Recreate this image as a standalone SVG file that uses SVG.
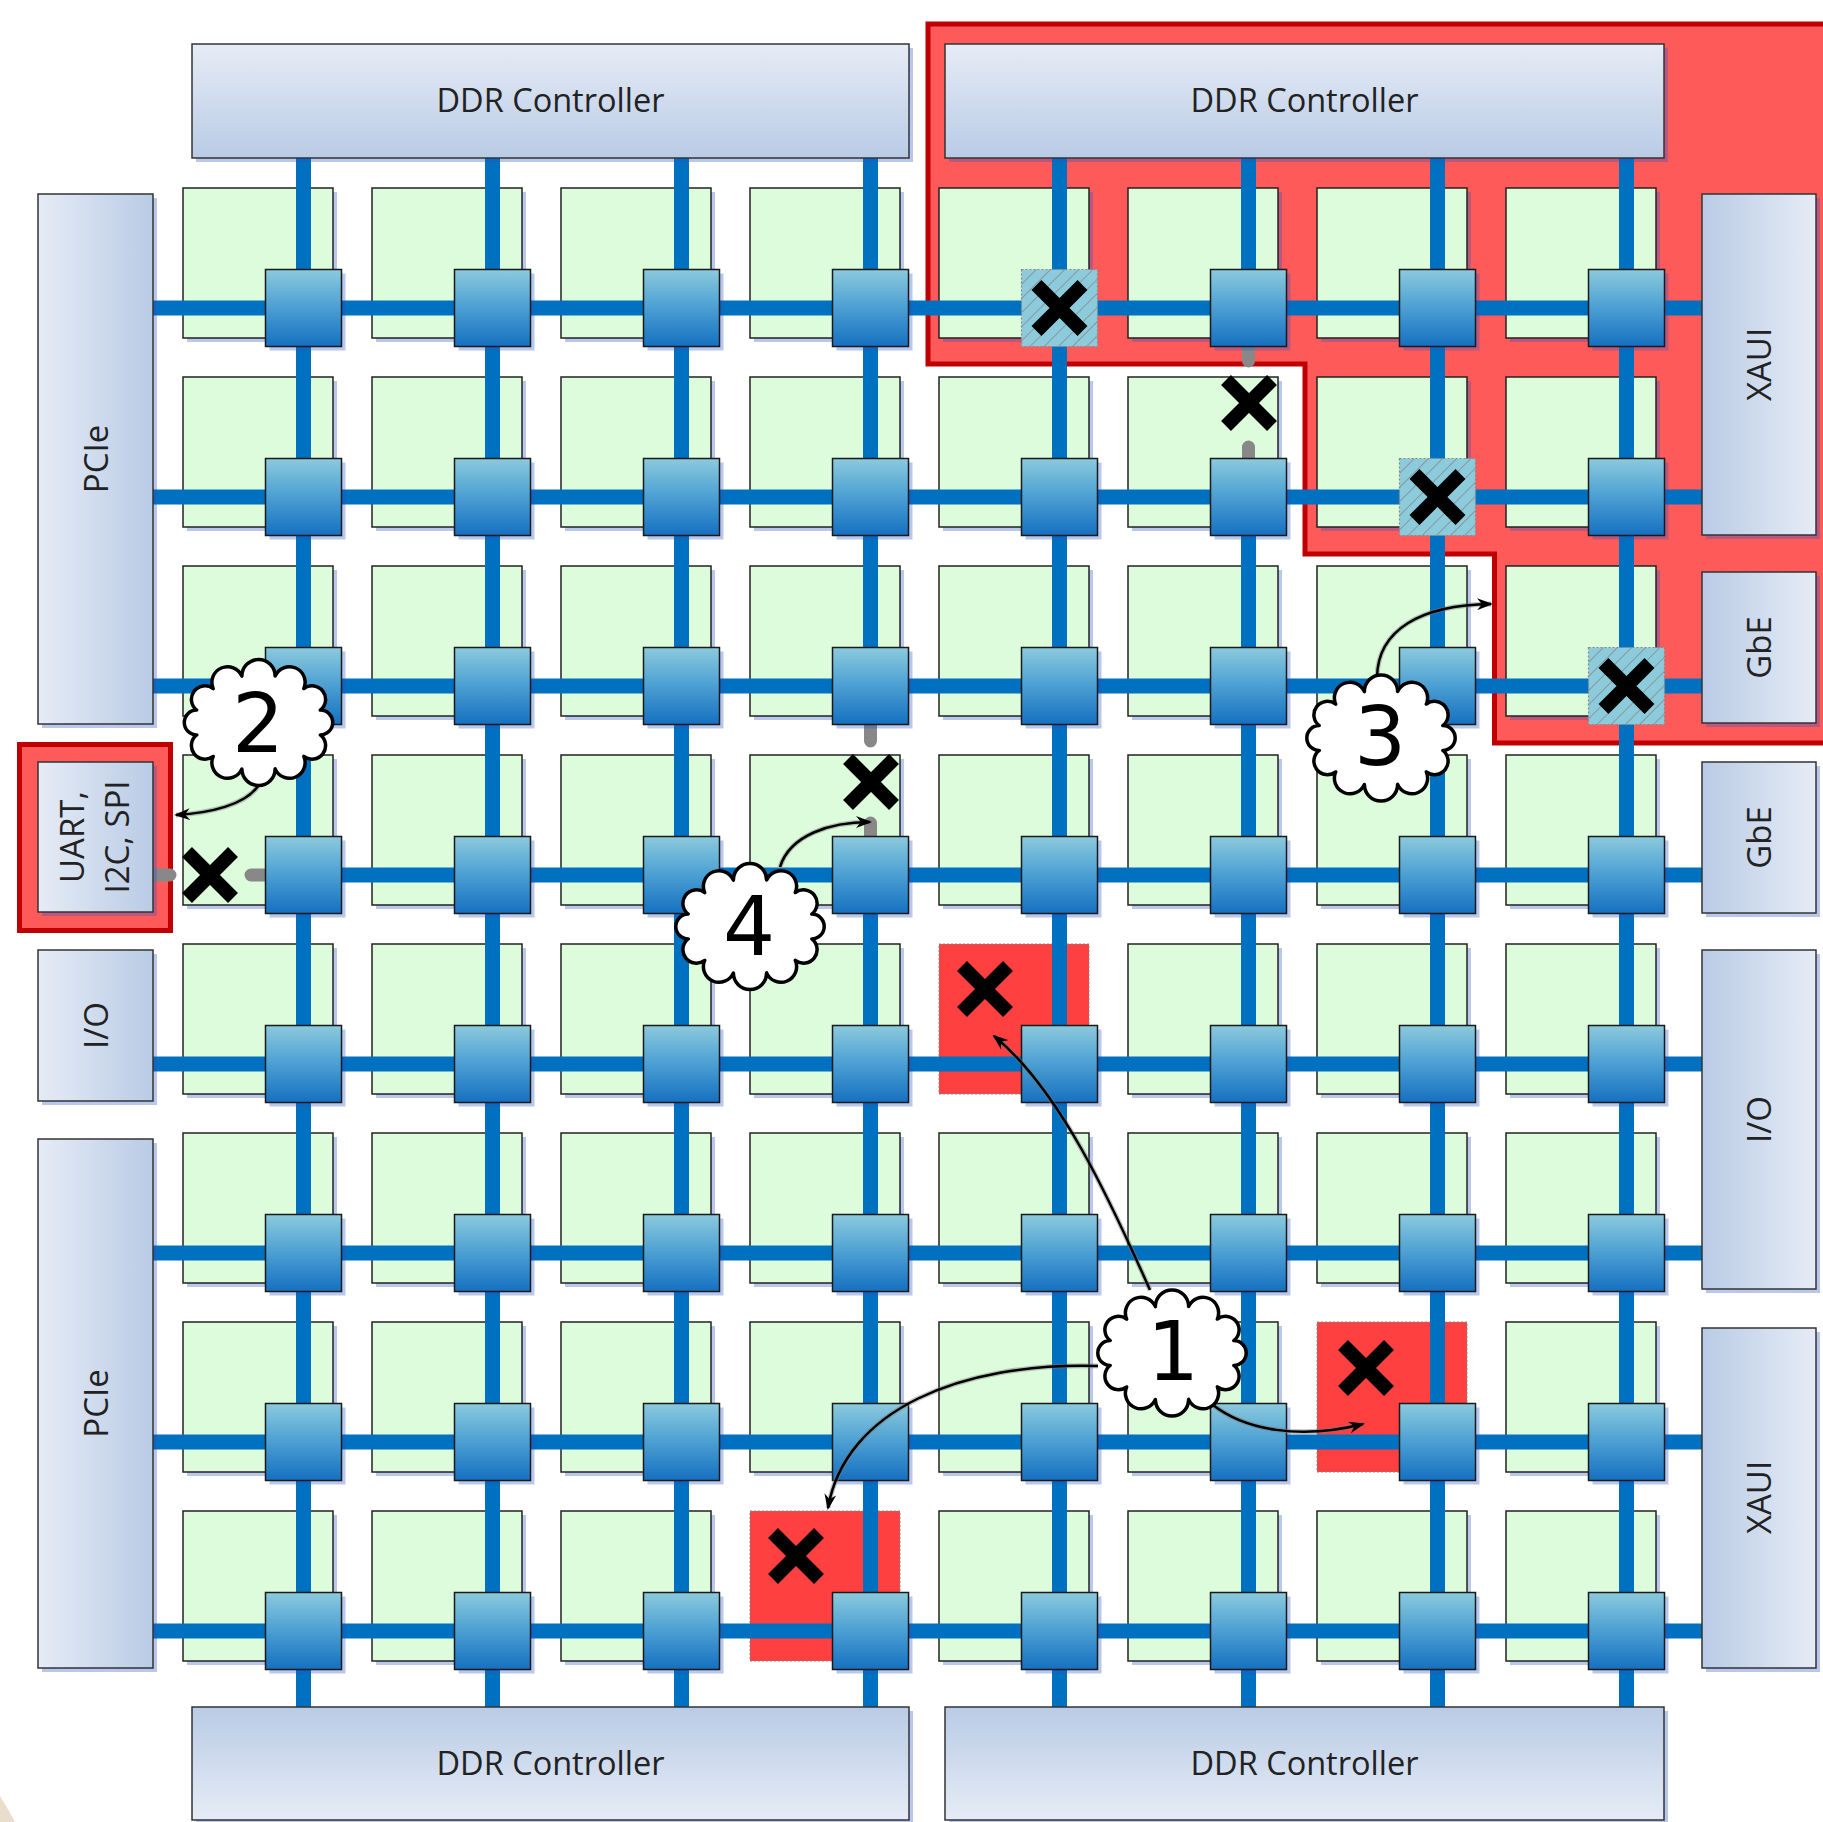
<svg xmlns="http://www.w3.org/2000/svg" xmlns:xlink="http://www.w3.org/1999/xlink" width="1823" height="1822" viewBox="0 0 1823 1822">
<style>
.sh{fill:#2850c8;fill-opacity:.32}
.tile{fill:#dcfcdc;stroke:#222;stroke-width:1.5}
.failed{fill:#ff4040;stroke:#888;stroke-width:1;stroke-dasharray:2 2}
.box{stroke:#333;stroke-width:1.5}
.bus{stroke:#0070c0;stroke-width:15;fill:none}
.stub{stroke:#888;stroke-width:13;stroke-linecap:round;fill:none}
.xm{stroke:#000;stroke-width:14;fill:none}
.lbl{font-family:"Open Sans","Liberation Sans",sans-serif;font-size:33px;fill:#222;text-anchor:middle}
.ddr{font-family:"Open Sans","Liberation Sans",sans-serif;font-size:32.5px;fill:#222;text-anchor:middle}
.num{font-family:"DejaVu Sans",sans-serif;font-size:82px;fill:#000;text-anchor:middle}
.cloud{fill:#fff;stroke:#000;stroke-width:3.5;stroke-linejoin:round}
.arr{fill:none;stroke:#000;stroke-width:2.5;marker-end:url(#ah)}
.arrsh{fill:none;stroke:#777;stroke-width:5;stroke-opacity:.45}
</style>
<defs>
<linearGradient id="gTop" x1="0" y1="0" x2="0" y2="1"><stop offset="0" stop-color="#e6ecf6"/><stop offset="1" stop-color="#b9cbe5"/></linearGradient>
<linearGradient id="gBot" x1="0" y1="0" x2="0" y2="1"><stop offset="0" stop-color="#b9cbe5"/><stop offset="1" stop-color="#e6ecf6"/></linearGradient>
<linearGradient id="gLeft" x1="0" y1="0" x2="1" y2="0"><stop offset="0" stop-color="#e6ecf6"/><stop offset="1" stop-color="#b9cbe5"/></linearGradient>
<linearGradient id="gRight" x1="0" y1="0" x2="1" y2="0"><stop offset="0" stop-color="#b9cbe5"/><stop offset="1" stop-color="#e6ecf6"/></linearGradient>
<linearGradient id="gR" x1="0" y1="0" x2="0" y2="1"><stop offset="0" stop-color="#8ccadd"/><stop offset=".5" stop-color="#4b9fd3"/><stop offset="1" stop-color="#1670c0"/></linearGradient>
<pattern id="hatch" width="10" height="10" patternUnits="userSpaceOnUse" patternTransform="rotate(45)"><line x1="0" y1="0" x2="0" y2="10" stroke="#8a8a8a" stroke-width="1.6"/></pattern>
<marker id="ah" viewBox="0 0 16 12" refX="14" refY="6" markerWidth="16" markerHeight="12" markerUnits="userSpaceOnUse" orient="auto"><path d="M0,0 L16,6 L0,12 L5,6 Z" fill="#000"/></marker>
<g id="tileShape"><rect x="4" y="4" width="150" height="150" class="sh"/><rect width="150" height="150" class="tile"/></g>
<g id="routerShape"><rect x="4" y="4" width="76" height="77" class="sh"/><rect width="76" height="77" fill="url(#gR)" stroke="#1a1a1a" stroke-width="1.5"/></g>
<g id="hatchShape"><rect width="76" height="77" fill="#8ccbdc"/><rect width="76" height="77" fill="url(#hatch)" stroke="#888" stroke-width="1.2" stroke-dasharray="2 2"/></g>
<path id="cloudShape" d="M61.8,12.4 A1,1 0 0,1 45.3,33.9 A1,1 0 0,1 16.6,46.4 A1,1 0 0,1 -16.6,46.4 A1,1 0 0,1 -45.3,33.9 A1,1 0 0,1 -61.8,12.4 A1,1 0 0,1 -61.8,-12.4 A1,1 0 0,1 -45.3,-33.9 A1,1 0 0,1 -16.6,-46.4 A1,1 0 0,1 16.6,-46.4 A1,1 0 0,1 45.3,-33.9 A1,1 0 0,1 61.8,-12.4 A1,1 0 0,1 61.8,12.4 Z"/>
<path id="xShape" d="M-23,-23 L23,23 M23,-23 L-23,23"/>
</defs>
<rect width="1823" height="1822" fill="#fff"/>
<path d="M0,1796 Q8,1809 15,1822 L0,1822 Z" fill="#e9ddcc"/>
<g id="failed-region">
<path d="M928,24 H1830 V743 H1494.5 V554 H1305 V364 H928 Z" fill="#ff5a5a" stroke="#c00000" stroke-width="5"/>
<rect x="19.5" y="744.5" width="151" height="186" fill="#ff5a5a" stroke="#c00000" stroke-width="5"/>
</g>
<g id="tiles">
<use id="t-r0c0" href="#tileShape" x="183" y="188"/><use id="t-r0c1" href="#tileShape" x="372" y="188"/><use id="t-r0c2" href="#tileShape" x="561" y="188"/><use id="t-r0c3" href="#tileShape" x="750" y="188"/><use id="t-r0c4" href="#tileShape" x="939" y="188"/><use id="t-r0c5" href="#tileShape" x="1128" y="188"/><use id="t-r0c6" href="#tileShape" x="1317" y="188"/><use id="t-r0c7" href="#tileShape" x="1506" y="188"/>
<use id="t-r1c0" href="#tileShape" x="183" y="377"/><use id="t-r1c1" href="#tileShape" x="372" y="377"/><use id="t-r1c2" href="#tileShape" x="561" y="377"/><use id="t-r1c3" href="#tileShape" x="750" y="377"/><use id="t-r1c4" href="#tileShape" x="939" y="377"/><use id="t-r1c5" href="#tileShape" x="1128" y="377"/><use id="t-r1c6" href="#tileShape" x="1317" y="377"/><use id="t-r1c7" href="#tileShape" x="1506" y="377"/>
<use id="t-r2c0" href="#tileShape" x="183" y="566"/><use id="t-r2c1" href="#tileShape" x="372" y="566"/><use id="t-r2c2" href="#tileShape" x="561" y="566"/><use id="t-r2c3" href="#tileShape" x="750" y="566"/><use id="t-r2c4" href="#tileShape" x="939" y="566"/><use id="t-r2c5" href="#tileShape" x="1128" y="566"/><use id="t-r2c6" href="#tileShape" x="1317" y="566"/><use id="t-r2c7" href="#tileShape" x="1506" y="566"/>
<use id="t-r3c0" href="#tileShape" x="183" y="755"/><use id="t-r3c1" href="#tileShape" x="372" y="755"/><use id="t-r3c2" href="#tileShape" x="561" y="755"/><use id="t-r3c3" href="#tileShape" x="750" y="755"/><use id="t-r3c4" href="#tileShape" x="939" y="755"/><use id="t-r3c5" href="#tileShape" x="1128" y="755"/><use id="t-r3c6" href="#tileShape" x="1317" y="755"/><use id="t-r3c7" href="#tileShape" x="1506" y="755"/>
<use id="t-r4c0" href="#tileShape" x="183" y="944"/><use id="t-r4c1" href="#tileShape" x="372" y="944"/><use id="t-r4c2" href="#tileShape" x="561" y="944"/><use id="t-r4c3" href="#tileShape" x="750" y="944"/><rect id="t-r4c4" x="939" y="944" width="150" height="150" class="failed"/><use id="t-r4c5" href="#tileShape" x="1128" y="944"/><use id="t-r4c6" href="#tileShape" x="1317" y="944"/><use id="t-r4c7" href="#tileShape" x="1506" y="944"/>
<use id="t-r5c0" href="#tileShape" x="183" y="1133"/><use id="t-r5c1" href="#tileShape" x="372" y="1133"/><use id="t-r5c2" href="#tileShape" x="561" y="1133"/><use id="t-r5c3" href="#tileShape" x="750" y="1133"/><use id="t-r5c4" href="#tileShape" x="939" y="1133"/><use id="t-r5c5" href="#tileShape" x="1128" y="1133"/><use id="t-r5c6" href="#tileShape" x="1317" y="1133"/><use id="t-r5c7" href="#tileShape" x="1506" y="1133"/>
<use id="t-r6c0" href="#tileShape" x="183" y="1322"/><use id="t-r6c1" href="#tileShape" x="372" y="1322"/><use id="t-r6c2" href="#tileShape" x="561" y="1322"/><use id="t-r6c3" href="#tileShape" x="750" y="1322"/><use id="t-r6c4" href="#tileShape" x="939" y="1322"/><use id="t-r6c5" href="#tileShape" x="1128" y="1322"/><rect id="t-r6c6" x="1317" y="1322" width="150" height="150" class="failed"/><use id="t-r6c7" href="#tileShape" x="1506" y="1322"/>
<use id="t-r7c0" href="#tileShape" x="183" y="1511"/><use id="t-r7c1" href="#tileShape" x="372" y="1511"/><use id="t-r7c2" href="#tileShape" x="561" y="1511"/><rect id="t-r7c3" x="750" y="1511" width="150" height="150" class="failed"/><use id="t-r7c4" href="#tileShape" x="939" y="1511"/><use id="t-r7c5" href="#tileShape" x="1128" y="1511"/><use id="t-r7c6" href="#tileShape" x="1317" y="1511"/><use id="t-r7c7" href="#tileShape" x="1506" y="1511"/>
</g>
<g id="connectors">
<path class="bus" d="M303.5,158V1707 M492.5,158V1707 M681.5,158V1707 M870.5,158V700 M870.5,860V1707 M1059.5,158V1707 M1248.5,158V320 M1248.5,480V1707 M1437.5,158V1707 M1626.5,158V1707"/>
<path class="bus" d="M153,308H1702 M153,497H1702 M153,686H1702 M290,875H1702 M153,1064H1702 M153,1253H1702 M153,1442H1702 M153,1631H1702"/>
<path class="stub" d="M153,875H170 M251,875H270 M1248.5,340V361 M1248.5,447V466 M870.5,718V741 M870.5,823V842"/>
</g>
<g id="ddr-tl"><rect x="196" y="48" width="717" height="114" class="sh"/><rect x="192" y="44" width="717" height="114" fill="url(#gTop)" class="box"/><text x="550.5" y="111.5" class="ddr">DDR Controller</text></g>
<g id="ddr-tr"><rect x="949" y="48" width="719" height="114" class="sh"/><rect x="945" y="44" width="719" height="114" fill="url(#gTop)" class="box"/><text x="1304.5" y="111.5" class="ddr">DDR Controller</text></g>
<g id="ddr-bl"><rect x="196" y="1711" width="717" height="113" class="sh"/><rect x="192" y="1707" width="717" height="113" fill="url(#gBot)" class="box"/><text x="550.5" y="1775" class="ddr">DDR Controller</text></g>
<g id="ddr-br"><rect x="949" y="1711" width="719" height="113" class="sh"/><rect x="945" y="1707" width="719" height="113" fill="url(#gBot)" class="box"/><text x="1304.5" y="1775" class="ddr">DDR Controller</text></g>
<g id="pcie-top"><rect x="42" y="198" width="115" height="530" class="sh"/><rect x="38" y="194" width="115" height="530" fill="url(#gLeft)" class="box"/><text transform="translate(95.5,459) rotate(-90)" y="12" class="lbl">PCIe</text></g>
<g id="uart"><rect x="42" y="766" width="115" height="150" class="sh"/><rect x="38" y="762" width="115" height="150" fill="url(#gLeft)" class="box"/><text transform="translate(95.5,837) rotate(-90)" class="lbl"><tspan x="0" y="-12">UART,</tspan><tspan x="0" y="33">I2C, SPI</tspan></text></g>
<g id="io-left"><rect x="42" y="954" width="115" height="151" class="sh"/><rect x="38" y="950" width="115" height="151" fill="url(#gLeft)" class="box"/><text transform="translate(95.5,1025.5) rotate(-90)" y="12" class="lbl">I/O</text></g>
<g id="pcie-bottom"><rect x="42" y="1143" width="115" height="529" class="sh"/><rect x="38" y="1139" width="115" height="529" fill="url(#gLeft)" class="box"/><text transform="translate(95.5,1403.5) rotate(-90)" y="12" class="lbl">PCIe</text></g>
<g id="xaui-top"><rect x="1706" y="198" width="114" height="341" class="sh"/><rect x="1702" y="194" width="114" height="341" fill="url(#gRight)" class="box"/><text transform="translate(1759,364.5) rotate(-90)" y="12" class="lbl">XAUI</text></g>
<g id="gbe-1"><rect x="1706" y="576" width="114" height="151" class="sh"/><rect x="1702" y="572" width="114" height="151" fill="url(#gRight)" class="box"/><text transform="translate(1759,647.5) rotate(-90)" y="12" class="lbl">GbE</text></g>
<g id="gbe-2"><rect x="1706" y="766" width="114" height="151" class="sh"/><rect x="1702" y="762" width="114" height="151" fill="url(#gRight)" class="box"/><text transform="translate(1759,837.5) rotate(-90)" y="12" class="lbl">GbE</text></g>
<g id="io-right"><rect x="1706" y="954" width="114" height="339" class="sh"/><rect x="1702" y="950" width="114" height="339" fill="url(#gRight)" class="box"/><text transform="translate(1759,1119.5) rotate(-90)" y="12" class="lbl">I/O</text></g>
<g id="xaui-bottom"><rect x="1706" y="1332" width="114" height="340" class="sh"/><rect x="1702" y="1328" width="114" height="340" fill="url(#gRight)" class="box"/><text transform="translate(1759,1497.5) rotate(-90)" y="12" class="lbl">XAUI</text></g>
<g id="routers">
<use id="r-r0c0" href="#routerShape" x="265.5" y="269.5"/><use id="r-r0c1" href="#routerShape" x="454.5" y="269.5"/><use id="r-r0c2" href="#routerShape" x="643.5" y="269.5"/><use id="r-r0c3" href="#routerShape" x="832.5" y="269.5"/><use id="r-r0c4" href="#hatchShape" x="1021.5" y="269.5"/><use id="r-r0c5" href="#routerShape" x="1210.5" y="269.5"/><use id="r-r0c6" href="#routerShape" x="1399.5" y="269.5"/><use id="r-r0c7" href="#routerShape" x="1588.5" y="269.5"/>
<use id="r-r1c0" href="#routerShape" x="265.5" y="458.5"/><use id="r-r1c1" href="#routerShape" x="454.5" y="458.5"/><use id="r-r1c2" href="#routerShape" x="643.5" y="458.5"/><use id="r-r1c3" href="#routerShape" x="832.5" y="458.5"/><use id="r-r1c4" href="#routerShape" x="1021.5" y="458.5"/><use id="r-r1c5" href="#routerShape" x="1210.5" y="458.5"/><use id="r-r1c6" href="#hatchShape" x="1399.5" y="458.5"/><use id="r-r1c7" href="#routerShape" x="1588.5" y="458.5"/>
<use id="r-r2c0" href="#routerShape" x="265.5" y="647.5"/><use id="r-r2c1" href="#routerShape" x="454.5" y="647.5"/><use id="r-r2c2" href="#routerShape" x="643.5" y="647.5"/><use id="r-r2c3" href="#routerShape" x="832.5" y="647.5"/><use id="r-r2c4" href="#routerShape" x="1021.5" y="647.5"/><use id="r-r2c5" href="#routerShape" x="1210.5" y="647.5"/><use id="r-r2c6" href="#routerShape" x="1399.5" y="647.5"/><use id="r-r2c7" href="#hatchShape" x="1588.5" y="647.5"/>
<use id="r-r3c0" href="#routerShape" x="265.5" y="836.5"/><use id="r-r3c1" href="#routerShape" x="454.5" y="836.5"/><use id="r-r3c2" href="#routerShape" x="643.5" y="836.5"/><use id="r-r3c3" href="#routerShape" x="832.5" y="836.5"/><use id="r-r3c4" href="#routerShape" x="1021.5" y="836.5"/><use id="r-r3c5" href="#routerShape" x="1210.5" y="836.5"/><use id="r-r3c6" href="#routerShape" x="1399.5" y="836.5"/><use id="r-r3c7" href="#routerShape" x="1588.5" y="836.5"/>
<use id="r-r4c0" href="#routerShape" x="265.5" y="1025.5"/><use id="r-r4c1" href="#routerShape" x="454.5" y="1025.5"/><use id="r-r4c2" href="#routerShape" x="643.5" y="1025.5"/><use id="r-r4c3" href="#routerShape" x="832.5" y="1025.5"/><use id="r-r4c4" href="#routerShape" x="1021.5" y="1025.5"/><use id="r-r4c5" href="#routerShape" x="1210.5" y="1025.5"/><use id="r-r4c6" href="#routerShape" x="1399.5" y="1025.5"/><use id="r-r4c7" href="#routerShape" x="1588.5" y="1025.5"/>
<use id="r-r5c0" href="#routerShape" x="265.5" y="1214.5"/><use id="r-r5c1" href="#routerShape" x="454.5" y="1214.5"/><use id="r-r5c2" href="#routerShape" x="643.5" y="1214.5"/><use id="r-r5c3" href="#routerShape" x="832.5" y="1214.5"/><use id="r-r5c4" href="#routerShape" x="1021.5" y="1214.5"/><use id="r-r5c5" href="#routerShape" x="1210.5" y="1214.5"/><use id="r-r5c6" href="#routerShape" x="1399.5" y="1214.5"/><use id="r-r5c7" href="#routerShape" x="1588.5" y="1214.5"/>
<use id="r-r6c0" href="#routerShape" x="265.5" y="1403.5"/><use id="r-r6c1" href="#routerShape" x="454.5" y="1403.5"/><use id="r-r6c2" href="#routerShape" x="643.5" y="1403.5"/><use id="r-r6c3" href="#routerShape" x="832.5" y="1403.5"/><use id="r-r6c4" href="#routerShape" x="1021.5" y="1403.5"/><use id="r-r6c5" href="#routerShape" x="1210.5" y="1403.5"/><use id="r-r6c6" href="#routerShape" x="1399.5" y="1403.5"/><use id="r-r6c7" href="#routerShape" x="1588.5" y="1403.5"/>
<use id="r-r7c0" href="#routerShape" x="265.5" y="1592.5"/><use id="r-r7c1" href="#routerShape" x="454.5" y="1592.5"/><use id="r-r7c2" href="#routerShape" x="643.5" y="1592.5"/><use id="r-r7c3" href="#routerShape" x="832.5" y="1592.5"/><use id="r-r7c4" href="#routerShape" x="1021.5" y="1592.5"/><use id="r-r7c5" href="#routerShape" x="1210.5" y="1592.5"/><use id="r-r7c6" href="#routerShape" x="1399.5" y="1592.5"/><use id="r-r7c7" href="#routerShape" x="1588.5" y="1592.5"/>
</g>
<g id="fault-marks" class="xm">
<use href="#xShape" x="210" y="875"/>
<use href="#xShape" x="1249" y="403"/>
<use href="#xShape" x="871" y="782"/>
<use href="#xShape" x="985" y="989"/>
<use href="#xShape" x="1366" y="1368"/>
<use href="#xShape" x="796" y="1556"/>
<use href="#xShape" x="1059.5" y="308"/>
<use href="#xShape" x="1437.5" y="497"/>
<use href="#xShape" x="1626.5" y="686"/>
</g>
<g id="callout-arrows">
<path class="arrsh" d="M1098,1366 C960,1362 845,1410 828,1508"/>
<path class="arr" d="M1098,1366 C960,1362 845,1410 828,1508"/>
<path class="arrsh" d="M1213,1405 C1245,1430 1300,1440 1363,1424"/>
<path class="arr" d="M1213,1405 C1245,1430 1300,1440 1363,1424"/>
<path class="arrsh" d="M1150,1290 C1110,1200 1060,1090 994,1036"/>
<path class="arr" d="M1150,1290 C1110,1200 1060,1090 994,1036"/>
<path class="arrsh" d="M258,786 C245,805 210,813 176,815"/>
<path class="arr" d="M258,786 C245,805 210,813 176,815"/>
<path class="arrsh" d="M1377,677 C1378,630 1420,605 1491,604"/>
<path class="arr" d="M1377,677 C1378,630 1420,605 1491,604"/>
<path class="arrsh" d="M780,867 C790,835 830,822 870,822"/>
<path class="arr" d="M780,867 C790,835 830,822 870,822"/>
</g>
<g id="callout-1"><use href="#cloudShape" class="cloud" x="1172" y="1353"/><text x="1173" y="1380" class="num">1</text></g>
<g id="callout-2"><use href="#cloudShape" class="cloud" x="258.5" y="722.5"/><text x="258" y="752" class="num">2</text></g>
<g id="callout-3"><use href="#cloudShape" class="cloud" x="1381" y="738"/><text x="1380" y="765" class="num">3</text></g>
<g id="callout-4"><use href="#cloudShape" class="cloud" x="750" y="926.5"/><text x="749" y="955" class="num">4</text></g>
</svg>
